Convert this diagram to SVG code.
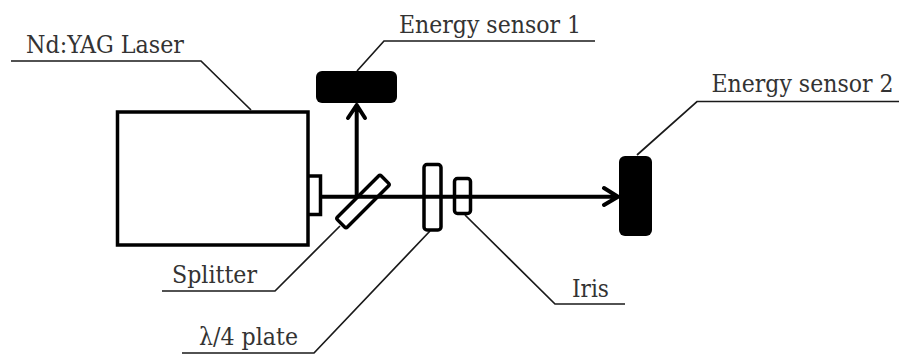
<svg xmlns="http://www.w3.org/2000/svg" width="899" height="354" viewBox="0 0 899 354">
<style>
text{font-family:"DejaVu Serif Condensed","DejaVu Serif",serif;font-size:25px;fill:#333}
.leader{fill:none;stroke:#1a1a1a;stroke-width:1.7}
.part{fill:none;stroke:#000;stroke-width:3.500}
.thick{fill:none;stroke:#000;stroke-width:4;stroke-linecap:round;stroke-linejoin:round}
.dark{fill:#000}
</style>
<rect width="899" height="354" fill="#fff"/>
<g id="connectors">
<path class="thick" d="M321 196.700H617M604 188L618 196.700L604 205"/>
<path class="thick" d="M356.700 196.700V105M348 118L356.700 105L365 118"/>
<path class="leader" d="M11 61H201L251 110"/>
<path class="leader" d="M357 71L384 41H595"/>
<path class="leader" d="M637 155L697 101.500H899"/>
<path class="leader" d="M162 291H275L340 226"/>
<path class="leader" d="M182 353H314L430 231"/>
<path class="leader" d="M465 215L555 304H625"/>
</g>
<g id="laser"><rect class="part" x="117.500" y="112" width="190.500" height="133"/><text x="26" y="53" textLength="158" lengthAdjust="spacingAndGlyphs">Nd:YAG Laser</text></g>
<g id="emitter"><path class="part" d="M309 176H320.500V214.500H309"/></g>
<g id="splitter"><rect class="part" x="-31" y="-7" width="62" height="14" rx="2" transform="translate(363 201.500) rotate(-45)"/><text x="172" y="283" textLength="85" lengthAdjust="spacingAndGlyphs">Splitter</text></g>
<g id="plate"><rect class="part" x="424" y="164.500" width="17" height="65.500" rx="3"/><text x="199" y="345" textLength="99" lengthAdjust="spacingAndGlyphs">λ/4 plate</text></g>
<g id="iris"><rect class="part" x="454.500" y="178.500" width="16" height="35" rx="3"/><text x="572" y="296.500" textLength="37" lengthAdjust="spacingAndGlyphs">Iris</text></g>
<g id="sensor1"><rect class="dark" x="316" y="71" width="81" height="32" rx="6"/><text x="399" y="32.500" textLength="182" lengthAdjust="spacingAndGlyphs">Energy sensor 1</text></g>
<g id="sensor2"><rect class="dark" x="619" y="156" width="33" height="80" rx="6"/><text x="711.500" y="92" textLength="182" lengthAdjust="spacingAndGlyphs">Energy sensor 2</text></g>
</svg>
